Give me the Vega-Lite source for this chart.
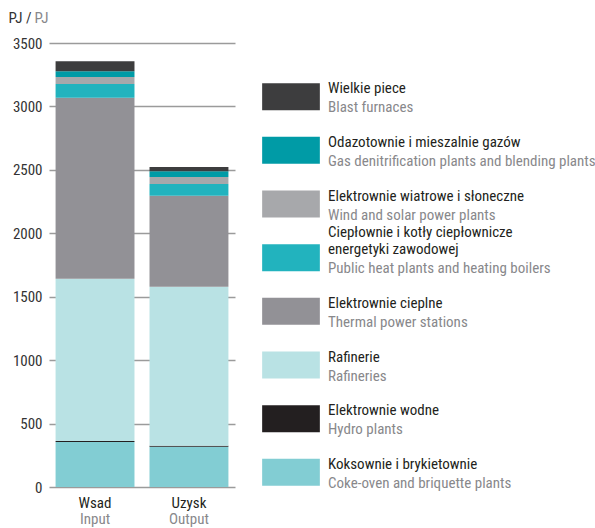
{
  "$schema": "https://vega.github.io/schema/vega-lite/v6.json",
  "padding": {"left": 8, "top": 10, "right": 0, "bottom": 0},
  "autosize": {"type": "pad"},
  "config": {
    "view": {"stroke": null},
    "font": "Roboto Condensed, Lato, sans-serif",
    "concat": {"spacing": 27}
  },
  "datasets": {
    "flows": [
      {"stage": "Wsad", "category": "Koksownie i brykietownie", "order": 1, "value": 355},
      {"stage": "Wsad", "category": "Elektrownie wodne", "order": 2, "value": 8},
      {"stage": "Wsad", "category": "Rafinerie", "order": 3, "value": 1279},
      {"stage": "Wsad", "category": "Elektrownie cieplne", "order": 4, "value": 1426},
      {"stage": "Wsad", "category": "Ciepłownie i kotły ciepłownicze energetyki zawodowej", "order": 5, "value": 108},
      {"stage": "Wsad", "category": "Elektrownie wiatrowe i słoneczne", "order": 6, "value": 55},
      {"stage": "Wsad", "category": "Odazotownie i mieszalnie gazów", "order": 7, "value": 47},
      {"stage": "Wsad", "category": "Wielkie piece", "order": 8, "value": 79},
      {"stage": "Uzysk", "category": "Koksownie i brykietownie", "order": 1, "value": 318},
      {"stage": "Uzysk", "category": "Elektrownie wodne", "order": 2, "value": 8},
      {"stage": "Uzysk", "category": "Rafinerie", "order": 3, "value": 1253},
      {"stage": "Uzysk", "category": "Elektrownie cieplne", "order": 4, "value": 716},
      {"stage": "Uzysk", "category": "Ciepłownie i kotły ciepłownicze energetyki zawodowej", "order": 5, "value": 93},
      {"stage": "Uzysk", "category": "Elektrownie wiatrowe i słoneczne", "order": 6, "value": 55},
      {"stage": "Uzysk", "category": "Odazotownie i mieszalnie gazów", "order": 7, "value": 47},
      {"stage": "Uzysk", "category": "Wielkie piece", "order": 8, "value": 32}
    ],
    "legend": [
      {"category": "Wielkie piece", "plTop": "", "pl": "Wielkie piece", "en": "Blast furnaces"},
      {"category": "Odazotownie i mieszalnie gazów", "plTop": "", "pl": "Odazotownie i mieszalnie gazów", "en": "Gas denitrification plants and blending plants"},
      {"category": "Elektrownie wiatrowe i słoneczne", "plTop": "", "pl": "Elektrownie wiatrowe i słoneczne", "en": "Wind and solar power plants"},
      {"category": "Ciepłownie i kotły ciepłownicze energetyki zawodowej", "plTop": "Ciepłownie i kotły ciepłownicze", "pl": "energetyki zawodowej", "en": "Public heat plants and heating boilers"},
      {"category": "Elektrownie cieplne", "plTop": "", "pl": "Elektrownie cieplne", "en": "Thermal power stations"},
      {"category": "Rafinerie", "plTop": "", "pl": "Rafinerie", "en": "Rafineries"},
      {"category": "Elektrownie wodne", "plTop": "", "pl": "Elektrownie wodne", "en": "Hydro plants"},
      {"category": "Koksownie i brykietownie", "plTop": "", "pl": "Koksownie i brykietownie", "en": "Coke-oven and briquette plants"}
    ]
  },
  "hconcat": [
    {
      "width": 186,
      "height": 444,
      "data": {"name": "flows"},
      "layer": [
        {
          "mark": {"type": "bar"},
          "encoding": {
            "x": {
              "field": "stage", "type": "nominal", "sort": ["Wsad", "Uzysk"],
              "scale": {"paddingInner": 0.16, "paddingOuter": 0.07},
              "axis": {"orient": "bottom", "title": null, "labelAngle": 0, "domain": false, "ticks": false,
                       "labelFontSize": 15, "labelColor": "#231f20", "labelPadding": 8}
            },
            "y": {
              "field": "value", "type": "quantitative", "stack": "zero",
              "scale": {"domain": [0, 3500], "nice": false},
              "axis": {
                "values": [0, 500, 1000, 1500, 2000, 2500, 3000, 3500], "format": "d",
                "grid": true, "gridColor": "#9b9b9b", "gridWidth": 1.4,
                "domain": false, "ticks": false, "labelPadding": 7,
                "labelFontSize": 15, "labelColor": "#333333",
                "title": "PJ /", "titleAngle": 0, "titleAlign": "left", "titleBaseline": "top",
                "titleX": -41, "titleY": -33, "titleFontSize": 15, "titleFontWeight": "normal", "titleColor": "#333333"
              }
            },
            "color": {
              "field": "category", "type": "nominal",
              "scale": {
                "domain": ["Wielkie piece", "Odazotownie i mieszalnie gazów", "Elektrownie wiatrowe i słoneczne", "Ciepłownie i kotły ciepłownicze energetyki zawodowej", "Elektrownie cieplne", "Rafinerie", "Elektrownie wodne", "Koksownie i brykietownie"],
                "range": ["#3d3d3e", "#009ba6", "#a7a8ab", "#22b3be", "#929196", "#b9e2e4", "#231f20", "#82cdd3"]
              },
              "legend": null
            },
            "order": {"field": "order", "type": "quantitative"}
          }
        },
        {
          "mark": {"type": "bar", "opacity": 0},
          "encoding": {
            "x": {
              "field": "stage", "type": "nominal", "sort": ["Wsad", "Uzysk"],
              "axis": {"orient": "bottom", "labelAngle": 0, "domain": false, "ticks": false, "grid": false,
                       "labelFontSize": 15, "labelColor": "#88888b", "labelPadding": 24.5,
                       "labelExpr": "datum.value == 'Wsad' ? 'Input' : 'Output'",
                       "title": "PJ", "titleAngle": 0, "titleAlign": "left", "titleBaseline": "top",
                       "titleX": -15, "titleY": -477, "titleFontSize": 15, "titleFontWeight": "normal", "titleColor": "#88888b"}
            }
          }
        }
      ],
      "resolve": {"axis": {"x": "independent"}}
    },
    {
      "width": 333,
      "height": 483,
      "data": {"name": "legend"},
      "encoding": {
        "y": {
          "field": "category", "type": "nominal",
          "scale": {
            "type": "point", "padding": 1, "align": 0.5,
            "domain": ["Wielkie piece", "Odazotownie i mieszalnie gazów", "Elektrownie wiatrowe i słoneczne", "Ciepłownie i kotły ciepłownicze energetyki zawodowej", "Elektrownie cieplne", "Rafinerie", "Elektrownie wodne", "Koksownie i brykietownie"]
          },
          "axis": null
        }
      },
      "layer": [
        {
          "mark": {"type": "point", "shape": "M-1,-0.468H1V0.468H-1Z", "filled": true, "opacity": 1, "size": 3329, "strokeWidth": 0},
          "encoding": {
            "x": {"datum": 29, "type": "quantitative", "scale": {"domain": [0, 333], "nice": false, "zero": false}, "axis": null},
            "color": {"field": "category", "type": "nominal", "legend": null}
          }
        },
        {
          "mark": {"type": "text", "align": "left", "baseline": "alphabetic", "dy": -21, "fontSize": 15, "color": "#231f20"},
          "encoding": {
            "x": {"datum": 66, "type": "quantitative"},
            "text": {"field": "plTop"}
          }
        },
        {
          "mark": {"type": "text", "align": "left", "baseline": "alphabetic", "dy": -3.4, "fontSize": 15, "color": "#231f20"},
          "encoding": {
            "x": {"datum": 66, "type": "quantitative"},
            "text": {"field": "pl"}
          }
        },
        {
          "mark": {"type": "text", "align": "left", "baseline": "alphabetic", "dy": 15.6, "fontSize": 15, "color": "#88888b"},
          "encoding": {
            "x": {"datum": 66, "type": "quantitative"},
            "text": {"field": "en"}
          }
        }
      ]
    }
  ]
}
